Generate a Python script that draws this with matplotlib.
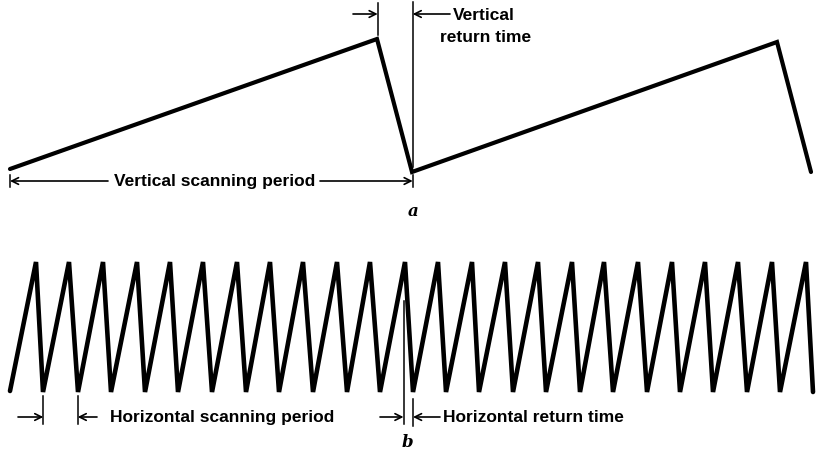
import matplotlib.pyplot as plt

# vertical sweep (panel a), in pixel units of the original drawing
vert_x = [10, 377, 412, 777, 811]
vert_y = [170, 40, 173, 43, 173]

# horizontal sweep (panel b)
horiz_start = (10, 392)
horiz_peaks = [36, 69, 103, 137, 170, 203, 237, 270, 303, 337, 370, 405,
               438, 472, 505, 538, 572, 604, 638, 672, 705, 738, 772, 806]
horiz_valleys = [43, 78, 111, 145, 178, 212, 246, 279, 313, 347, 380, 413,
                 446, 479, 513, 546, 580, 613, 647, 680, 713, 747, 780, 813]
horiz_top = 263
horiz_bottom = 393

FONT = ["Liberation Sans Narrow", "Liberation Sans", "DejaVu Sans"]

fig = plt.figure(figsize=(8.19, 4.56), dpi=100)
ax = fig.add_axes([0, 0, 1, 1])
ax.set_xlim(0, 819)
ax.set_ylim(456, 0)
ax.axis("off")

# panel a waveform
ax.plot(vert_x, vert_y, color="black", lw=3.0, solid_joinstyle="miter",
        solid_capstyle="round")

# panel b waveform
hx = [horiz_start[0]]
hy = [horiz_start[1]]
for p, v in zip(horiz_peaks, horiz_valleys):
    hx += [p, v]
    hy += [horiz_top, horiz_bottom]
ax.plot(hx, hy, color="black", lw=3.3, solid_joinstyle="miter",
        solid_capstyle="round")

thin = dict(color="black", lw=1.1)


def arrow(x0, x1, y):
    # arrow from x0 pointing to x1
    ax.annotate("", xy=(x1, y), xytext=(x0, y),
                arrowprops=dict(arrowstyle="->", lw=1.2, color="black",
                                shrinkA=0, shrinkB=0,
                                mutation_scale=12))


def tick(x, y0, y1):
    ax.plot([x, x], [y0, y1], **thin)


txt = dict(family=FONT, fontsize=12.5, weight="bold", color="black")

# --- panel a annotations
tick(377.7, 4, 36)
arrow(353, 377.7, 15)
tick(412.7, 3, 168)
arrow(450, 412.7, 15)
ax.text(453, 15, "Vertical", ha="left", va="center", **txt)
ax.text(440, 38, "return time", ha="left", va="center", **txt)

tick(10, 176, 188)
tick(412.7, 176, 188)
arrow(108, 10, 182)
arrow(320, 412.7, 182)
ax.text(215, 182, "Vertical scanning period", ha="center", va="center", **txt)

ax.text(413, 212, "a", ha="center", va="center", family="DejaVu Serif",
        style="italic", weight="bold", fontsize=12)

# --- panel b annotations
tick(43.3, 397, 425)
arrow(18, 43.3, 418)
tick(77.7, 397, 425)
arrow(97, 77.7, 418)
ax.text(110, 418, "Horizontal scanning period", ha="left", va="center", **txt)

tick(403.5, 302, 425)
arrow(380, 403.5, 418)
tick(413, 400, 427)
arrow(440, 413, 418)
ax.text(443, 418, "Horizontal return time", ha="left", va="center", **txt)

ax.text(407, 443, "b", ha="center", va="center", family="DejaVu Serif",
        style="italic", weight="bold", fontsize=12)

fig.savefig("out.png", dpi=100, facecolor="white")
